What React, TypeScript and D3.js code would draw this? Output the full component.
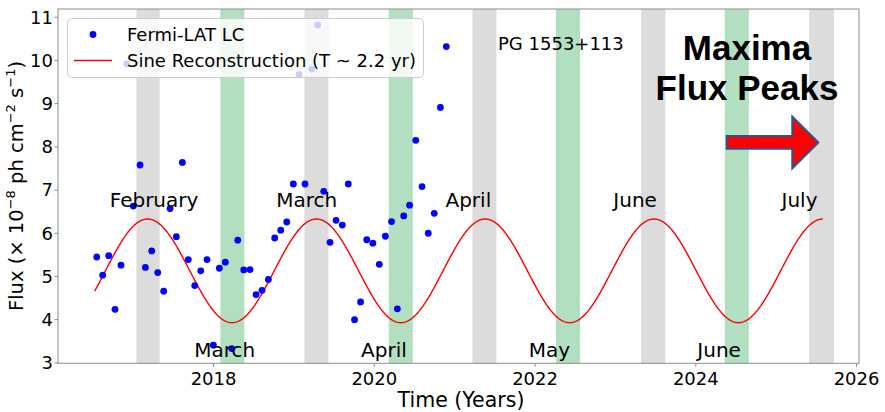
import React from 'react'
import * as d3 from 'd3'

// Fermi-LAT light curve of PG 1553+113 (decimal year, flux in 1e-8 ph cm^-2 s^-1)
const lcYears = [
  2016.547, 2016.621, 2016.696, 2016.774, 2016.849, 2016.92, 2017.002, 2017.086, 2017.152, 2017.231,
  2017.306, 2017.38, 2017.459, 2017.537, 2017.612, 2017.686, 2017.766, 2017.841, 2017.919, 2017.998,
  2018.072, 2018.147, 2018.226, 2018.301, 2018.376, 2018.454, 2018.529, 2018.603, 2018.682, 2018.761,
  2018.836, 2018.911, 2018.993, 2019.064, 2019.138, 2019.222, 2019.296, 2019.371, 2019.449, 2019.524,
  2019.602, 2019.677, 2019.754, 2019.829, 2019.906, 2019.982, 2020.062, 2020.138, 2020.215, 2020.287,
  2020.366, 2020.439, 2020.516, 2020.594, 2020.671, 2020.746, 2020.822, 2020.896
]
const lcFlux = [
  5.45, 5.03, 5.48, 4.24, 5.26, 9.92, 6.63, 7.58, 5.21, 5.59,
  5.09, 4.66, 6.57, 5.92, 7.64, 5.39, 4.79, 5.13, 5.39, 3.41,
  5.19, 5.33, 3.33, 5.84, 5.15, 5.16, 4.58, 4.68, 4.93, 5.89,
  6.07, 6.26, 7.14, 9.67, 7.14, 9.8, 10.82, 6.97, 5.79, 6.3,
  6.19, 7.14, 4.0, 4.41, 5.85, 5.77, 5.28, 5.93, 6.27, 4.25,
  6.4, 6.65, 8.15, 7.08, 6.0, 6.46, 8.91, 10.32
]

// sine reconstruction parameters
const sineMean = 5.13
const sineAmp = 1.2
const sinePeriod = 2.1
const sinePeakYear = 2017.18
const sineStart = 2016.52
const sineEnd = 2025.58

// shaded windows (start, end) in decimal years
const grayBands = [[2017.04, 2017.33], [2019.13, 2019.43], [2021.22, 2021.52], [2023.32, 2023.62], [2025.41, 2025.72]]
const greenBands = [[2018.085, 2018.383], [2020.18, 2020.48], [2022.26, 2022.56], [2024.36, 2024.66]]

const peakMonths = ['February', 'March', 'April', 'June', 'July']
const peakMonthYears = [2017.26, 2019.16, 2021.17, 2023.245, 2025.29]
const troughMonths = ['March', 'April', 'May', 'June']
const troughMonthYears = [2018.14, 2020.12, 2022.18, 2024.29]

const xTicks = [2018, 2020, 2022, 2024, 2026]
const yTicks = [3, 4, 5, 6, 7, 8, 9, 10, 11]

const W = 885
const H = 412
const font = 'DejaVu Sans, sans-serif'

export default function App() {
  const x = d3.scaleLinear().domain([2016.065, 2026.03]).range([58, 859])
  const y = d3.scaleLinear().domain([2.99, 11.19]).range([363.3, 9])

  const sinePts = d3.range(sineStart, sineEnd + 0.001, 0.01).map(t => [
    t,
    sineMean + sineAmp * Math.cos((2 * Math.PI * (t - sinePeakYear)) / sinePeriod)
  ])
  const line = d3.line<number[]>().x(d => x(d[0])).y(d => y(d[1]))

  const [x0, x1] = x.range()
  const [y0, y1] = y.range()

  return (
    <svg width={W} height={H} style={{ position: 'absolute', left: 0, top: 0, background: '#fff' }} fontFamily={font}>
      {grayBands.map((b, i) => (
        <rect key={'g' + i} x={x(b[0])} y={y1} width={x(b[1]) - x(b[0])} height={y0 - y1} fill="#dcdcdc" />
      ))}
      {greenBands.map((b, i) => (
        <rect key={'gr' + i} x={x(b[0])} y={y1} width={x(b[1]) - x(b[0])} height={y0 - y1} fill="#b2dfbf" />
      ))}

      {/* frame */}
      <rect x={x0} y={y1} width={x1 - x0} height={y0 - y1} fill="none" stroke="#8c8c8c" strokeWidth={1} />

      {xTicks.map(t => (
        <g key={'xt' + t}>
          <line x1={x(t)} x2={x(t)} y1={y0} y2={y0 + 3.5} stroke="#8c8c8c" />
          <text x={x(t)} y={385} fontSize={18} textAnchor="middle" fill="#000">{t}</text>
        </g>
      ))}
      {yTicks.map(t => (
        <g key={'yt' + t}>
          <line x1={x0 - 3.5} x2={x0} y1={y(t)} y2={y(t)} stroke="#8c8c8c" />
          <text x={53} y={y(t)} dy="0.35em" fontSize={18} textAnchor="end" fill="#000">{t}</text>
        </g>
      ))}

      <text x={461} y={407} fontSize={20.5} textAnchor="middle">Time (Years)</text>
      <text transform="translate(23,186) rotate(-90)" fontSize={19.5} textAnchor="middle">
        Flux (× 10<tspan fontSize={13} dy={-8}>−8</tspan>
        <tspan dy={8}> ph cm</tspan><tspan fontSize={13} dy={-8}>−2</tspan>
        <tspan dy={8}> s</tspan><tspan fontSize={13} dy={-8}>−1</tspan><tspan dy={8}>)</tspan>
      </text>

      <path d={line(sinePts) || ''} fill="none" stroke="#ff0000" strokeWidth={1.4} />

      {lcYears.map((t, i) => (
        <circle key={'p' + i} cx={x(t)} cy={y(lcFlux[i])} r={3.4} fill="#0000ff" />
      ))}

      {peakMonths.map((m, i) => (
        <text key={'pm' + i} x={x(peakMonthYears[i])} y={207} fontSize={20} textAnchor="middle">{m}</text>
      ))}
      {troughMonths.map((m, i) => (
        <text key={'tm' + i} x={x(troughMonthYears[i])} y={357} fontSize={20} textAnchor="middle">{m}</text>
      ))}

      {/* legend */}
      <rect x={67.5} y={18.5} width={356} height={59} rx={4} fill="#fff" fillOpacity={0.8} stroke="#cccccc" />
      <circle cx={93} cy={34.5} r={3.4} fill="#0000ff" />
      <text x={127} y={40.5} fontSize={18}>Fermi-LAT LC</text>
      <line x1={74} x2={112} y1={60.5} y2={60.5} stroke="#ff0000" strokeWidth={1.4} />
      <text x={127} y={66.5} fontSize={18}>Sine Reconstruction (T ~ 2.2 yr)</text>

      <text x={498} y={50} fontSize={18}>PG 1553+113</text>

      <g fontFamily="Liberation Sans, Arial, sans-serif" fontWeight="bold" fontSize={35} textAnchor="middle">
        <text x={747} y={60}>Maxima</text>
        <text x={747} y={100}>Flux Peaks</text>
      </g>
      <polygon
        points="726.7,136 792.3,136 792.3,116.7 818.3,142.5 792.3,168.3 792.3,148.7 726.7,148.7"
        fill="#ff0000"
        stroke="#2f528f"
        strokeWidth={2}
      />
    </svg>
  )
}
